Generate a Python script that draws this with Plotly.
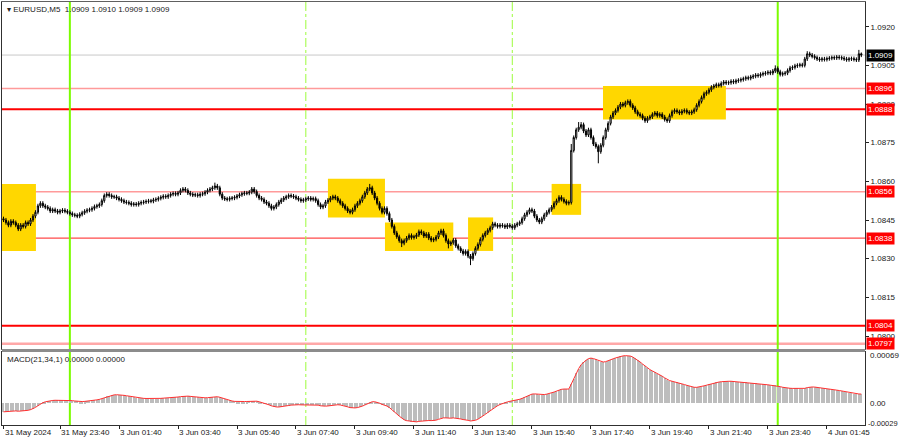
import plotly.graph_objects as go

# ---------------- data ----------------
PIP = 0.0001
BASE = 1.0800
# closes of the M5 bars, in pips above 1.0800
CLOSE_PIPS = [
    45, 44, 43, 44.5, 44, 43, 41.5, 43, 42.5, 44, 43.5, 45, 46.5, 48, 50.5,
    51.5, 50.5, 50, 49.5, 48.5, 49, 48.5, 48, 48.5, 48.8, 48.4, 48, 47.5,
    47, 46.8, 46.5, 47.2, 47.8, 48.4, 48.8, 49, 49.5, 50.2, 50.5, 51, 52.5,
    54.5, 55, 54.5, 54, 54, 53.5, 53, 52.5, 52, 51.8, 51.5, 51, 51.2, 51,
    51.5, 51.8, 52, 52.2, 52.4, 52.3, 52.8, 53, 53.4, 53.8, 54.2, 54, 54.5,
    55, 55.3, 55, 55.5, 56.5, 57, 56.5, 55.5, 55, 54.7, 54.8, 54.5, 55, 55.2,
    55.8, 56.5, 57, 57.5, 58.2, 57.5, 55, 53.5, 53.2, 53, 53.4, 53.5, 53.8,
    54.3, 54.8, 55.2, 55.5, 55.4, 55.8, 57, 56, 54.5, 53.5, 53, 52, 51.5,
    50.5, 49.5, 50, 51, 52, 52.8, 53.5, 54, 54.5, 54.3, 54, 53.5, 53, 52.5,
    52.8, 53.2, 53.5, 53, 53.3, 52.5, 51, 50, 50.5, 52, 52.7, 53.5, 54, 53.5,
    52.5, 51.5, 50.5, 49.5, 48.5, 48, 49, 50.5, 51.5, 52.5, 54, 55.5, 57,
    57.5, 55.5, 53.5, 51.5, 49.5, 48, 49.5, 47.5, 45, 42.5, 40, 38.5, 37, 36,
    37, 38, 39, 38.2, 38.5, 39.2, 40.5, 40, 38.8, 39.5, 38, 37.2, 37.5, 38.4,
    40, 40.8, 39, 37, 35.7, 36.2, 37.2, 35, 34, 33, 32, 32.8, 31, 30, 32, 34,
    35.5, 37.5, 39, 40, 41, 42, 43.5, 43, 42.5, 43, 42.8, 42.3, 43, 42.6, 42,
    43, 43.5, 44, 45.5, 47, 48, 49, 48.5, 46.5, 45, 44.2, 45.5, 47, 48, 49,
    50, 51.5, 52.5, 53.8, 53, 52.2, 51.5, 51.8, 72, 77, 80, 81, 82, 79.5, 78,
    80, 77, 74.5, 73.5, 71.5, 74, 77, 80, 82.5, 85, 86.5, 87.5, 88.8, 90,
    89.5, 90.5, 91, 89.5, 88.5, 87, 86, 85.5, 84.5, 83.5, 84.5, 85, 86, 86.5,
    85.5, 86, 85, 84, 83.5, 85.5, 87, 87.5, 87, 86.5, 87.2, 87.5, 86.8, 86.5,
    87, 87.8, 89.5, 91, 92.5, 94, 94.5, 95.5, 96.5, 97, 97.5, 97.2, 98, 98.5,
    98.2, 98.3, 98.8, 98.5, 99, 99.2, 99.5, 99.8, 100.2, 100, 100.5, 100.8,
    101.2, 101, 101.5, 101.8, 102, 102.3, 102, 102.8, 103.8, 102.5, 101.5,
    101.8, 102, 103, 104, 104.2, 104.8, 105, 105.2, 105, 107.5, 109.5, 109,
    108.5, 108, 107.5, 107.2, 107.5, 107.3, 107.6, 107.8, 108, 107.9, 108.2,
    108, 107.8, 107.5, 107.2, 107.5, 107.6, 107.3, 107.1, 109.5, 109,
]
FIRST_OPEN_PIPS = 45.5
WICK_PIPS = 0.8                      # typical wick length seen on the bars
# bars with visibly longer wicks: bar -> (high pips, low pips)  (None = default)
LONG_WICKS = {
    86: (59.5, None), 149: (59, None), 162: (None, 34.5), 181: (None, 34),
    190: (None, 27.5), 231: (74.5, None), 234: (83, None), 235: (83, None),
    242: (None, 67), 314: (105, None), 327: (110.5, None), 348: (111, None),
    349: (110, None),
}

TIME_LABELS = ["31 May 2024", "31 May 23:40", "3 Jun 01:40", "3 Jun 03:40",
               "3 Jun 05:40", "3 Jun 07:40", "3 Jun 09:40", "3 Jun 11:40",
               "3 Jun 13:40", "3 Jun 15:40", "3 Jun 17:40", "3 Jun 19:40",
               "3 Jun 21:40", "3 Jun 23:40", "4 Jun 01:45"]
TIME_LABEL_BARS = [0, 23, 47, 71, 95, 119, 143, 167, 191, 215, 239, 263, 287, 311, 335]

PRICE_TICKS = [1.0800, 1.0815, 1.0830, 1.0845, 1.0860, 1.0875, 1.0890, 1.0905, 1.0920]
BID = 1.0909
LEVELS = [1.0896, 1.0888, 1.0856, 1.0838, 1.0804, 1.0797]
LEVEL_COLORS = ["#FF9A9A", "#FF0000", "#FF9A9A", "#FF4A4A", "#FF0000", "#FFA8A8"]
LEVEL_WIDTHS = [1.5, 2, 1.5, 1.2, 2, 2.5]

SESSION_SOLID_BARS = [27, 315]      # 3 Jun 00:00, 4 Jun 00:00
SESSION_DASH_BARS = [123, 207]      # 3 Jun 08:00, 3 Jun 15:00

# yellow zones: (start bar, end bar, low price, high price)
ZONE_START = [-0.6, 132, 155.2, 189, 223, 243.9]
ZONE_END = [13.2, 155.2, 183, 199.2, 235, 293.9]
ZONE_LOW = [1.0833, 1.0846, 1.0833, 1.0833, 1.0847, 1.0884]
ZONE_HIGH = [1.0859, 1.0861, 1.0844, 1.0846, 1.0859, 1.0897]

MACD_FAST, MACD_SLOW = 21, 34
MACD_START = -0.00012               # MACD value at the first visible bar
MACD_TICKS = [0.00069, 0.0, -0.00029]
MACD_TICK_TEXT = ["0.00069", "0.00", "-0.00029"]

# ---------------- build OHLC ----------------
n = len(CLOSE_PIPS)
idx = list(range(n))
opens, highs, lows, closes = [], [], [], []
prev = FIRST_OPEN_PIPS
for i, c in enumerate(CLOSE_PIPS):
    o = prev
    h = max(o, c) + WICK_PIPS
    l = min(o, c) - WICK_PIPS
    if i in LONG_WICKS:
        hh, ll = LONG_WICKS[i]
        if hh is not None:
            h = hh
        if ll is not None:
            l = ll
    opens.append(BASE + o * PIP)
    highs.append(BASE + h * PIP)
    lows.append(BASE + l * PIP)
    closes.append(BASE + c * PIP)
    prev = c

# MACD(21,34,1) from the closes
a_f = 2.0 / (MACD_FAST + 1)
a_s = 2.0 / (MACD_SLOW + 1)
ema_f = closes[0]
ema_s = closes[0] - MACD_START
macd = []
for c in closes:
    ema_f = ema_f + a_f * (c - ema_f)
    ema_s = ema_s + a_s * (c - ema_s)
    macd.append(ema_f - ema_s)

# ---------------- figure ----------------
FONT = "Liberation Sans"
MAIN_DOMAIN = [0.1797, 1.0]
MACD_DOMAIN = [0.0, 0.1726]
X_RANGE = [-0.61, 350.5]
Y_RANGE = [1.079496, 1.092958]

fig = go.Figure()
fig.add_trace(go.Candlestick(
    x=idx, open=opens, high=highs, low=lows, close=closes,
    xaxis="x", yaxis="y",
    increasing=dict(line=dict(color="black", width=1), fillcolor="white"),
    decreasing=dict(line=dict(color="black", width=1), fillcolor="black"),
    whiskerwidth=0, showlegend=False, hoverinfo="skip"))
fig.add_trace(go.Bar(x=idx, y=macd, xaxis="x2", yaxis="y2",
                     marker=dict(color="#BDBDBD", line=dict(width=0)),
                     width=0.5, showlegend=False, hoverinfo="skip"))
fig.add_trace(go.Scatter(x=idx, y=macd, xaxis="x2", yaxis="y2", mode="lines",
                         line=dict(color="#FF3030", width=1),
                         showlegend=False, hoverinfo="skip"))

shapes = []
for s, e, lo, hi in zip(ZONE_START, ZONE_END, ZONE_LOW, ZONE_HIGH):
    shapes.append(dict(type="rect", xref="x", yref="y", x0=s, x1=e, y0=lo, y1=hi,
                       fillcolor="#FFD700", line=dict(width=0), layer="below"))
shapes.append(dict(type="line", xref="paper", yref="y", x0=0, x1=1, y0=BID, y1=BID,
                   line=dict(color="#C8C8C8", width=1), layer="below"))
for lv, col, w in zip(LEVELS, LEVEL_COLORS, LEVEL_WIDTHS):
    shapes.append(dict(type="line", xref="paper", yref="y", x0=0, x1=1, y0=lv, y1=lv,
                       line=dict(color=col, width=w), layer="below"))
for b in SESSION_SOLID_BARS:
    shapes.append(dict(type="line", xref="x", yref="paper", x0=b, x1=b, y0=0, y1=1,
                       line=dict(color="#7CFC00", width=2), layer="below"))
for b in SESSION_DASH_BARS:
    shapes.append(dict(type="line", xref="x", yref="paper", x0=b, x1=b, y0=0, y1=1,
                       line=dict(color="#9CFC3C", width=1, dash="dashdot"), layer="below"))
# pane separator
shapes.append(dict(type="rect", xref="paper", yref="paper", x0=0, x1=1,
                   y0=MACD_DOMAIN[1], y1=MAIN_DOMAIN[0],
                   fillcolor="#8C8C8C", line=dict(width=0)))

annotations = []
annotations.append(dict(xref="paper", yref="paper", x=0, y=1, xanchor="left", yanchor="top",
                        xshift=3, yshift=-1, showarrow=False,
                        text="▾ EURUSD,M5  1.0909 1.0910 1.0909 1.0909",
                        font=dict(family=FONT, size=8, color="#202020")))
annotations.append(dict(xref="paper", yref="paper", x=0, y=MACD_DOMAIN[1], xanchor="left",
                        yanchor="top", xshift=3, yshift=-1, showarrow=False,
                        text="MACD(21,34,1) 0.00000 0.00000",
                        font=dict(family=FONT, size=8, color="#202020")))
for lv in LEVELS:
    annotations.append(dict(xref="paper", yref="y", x=1, y=lv, xanchor="left", yanchor="middle",
                            xshift=1, showarrow=False, text=f"{lv:.4f}", bgcolor="#FF0000",
                            borderpad=1, font=dict(family=FONT, size=8, color="white")))
annotations.append(dict(xref="paper", yref="y", x=1, y=BID, xanchor="left", yanchor="middle",
                        xshift=1, showarrow=False, text=f"{BID:.4f}", bgcolor="black",
                        borderpad=1, font=dict(family=FONT, size=8, color="white")))
macd_shift = {0: -4, 1: 0, 2: 2}
macd_size = {0: 8, 1: 8, 2: 7.5}
for k, (v, t) in enumerate(zip(MACD_TICKS, MACD_TICK_TEXT)):
    annotations.append(dict(xref="paper", yref="y2", x=1, y=v, xanchor="left", yanchor="middle",
                            xshift=1 if k == 2 else 3, yshift=macd_shift[k], showarrow=False,
                            text=t, font=dict(family=FONT, size=macd_size[k], color="#202020")))
for b, t in zip(TIME_LABEL_BARS, TIME_LABELS):
    annotations.append(dict(xref="x2", yref="paper", x=b, y=0, xanchor="left", yanchor="top",
                            xshift=-1, yshift=-1, showarrow=False, text=t,
                            font=dict(family=FONT, size=8, color="#202020")))

fig.update_layout(
    width=900, height=441,
    margin=dict(l=2, r=35, t=2, b=16),
    paper_bgcolor="white", plot_bgcolor="white",
    showlegend=False, hovermode=False, bargap=0,
    font=dict(family=FONT, size=8, color="#202020"),
    xaxis=dict(domain=[0, 1], anchor="y", range=X_RANGE, showticklabels=False,
               showgrid=False, zeroline=False, showline=True, mirror=True,
               linecolor="#606060", linewidth=1, rangeslider=dict(visible=False),
               fixedrange=True, automargin=False),
    yaxis=dict(domain=MAIN_DOMAIN, anchor="x", side="right", range=Y_RANGE,
               tickvals=PRICE_TICKS, ticktext=[f"{v:.4f}" for v in PRICE_TICKS],
               ticks="outside", ticklen=3, tickcolor="#202020",
               tickfont=dict(family=FONT, size=8, color="#202020"),
               showgrid=False, zeroline=False, showline=True, mirror=True,
               linecolor="#303030", linewidth=1, automargin=False),
    xaxis2=dict(domain=[0, 1], anchor="y2", range=X_RANGE, matches="x",
                tickvals=TIME_LABEL_BARS, ticks="outside", ticklen=3, tickcolor="#202020",
                showticklabels=False, showgrid=False, zeroline=False, showline=True,
                mirror=True, linecolor="#303030", linewidth=1, automargin=False),
    yaxis2=dict(domain=MACD_DOMAIN, anchor="x2", side="right", range=[-0.00029, 0.00069],
                showticklabels=False, ticks="", showgrid=False, zeroline=False,
                showline=True, mirror=True, linecolor="#303030", linewidth=1,
                automargin=False),
    shapes=shapes, annotations=annotations,
)

fig.write_html("out.html", config={"displayModeBar": False},
               post_script="document.body.style.margin='0';document.body.style.overflow='hidden';")
